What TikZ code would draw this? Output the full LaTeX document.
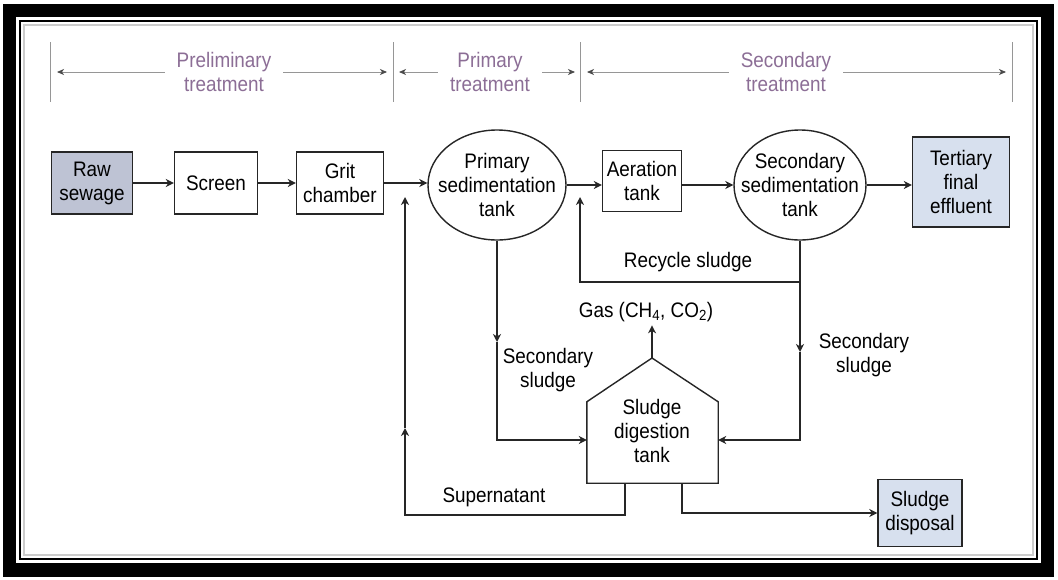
\documentclass[tikz,border=0pt]{standalone}
\usepackage{fontspec}
\newfontfamily\diagfont[FakeStretch=0.9]{Liberation Sans}
\usetikzlibrary{arrows.meta,shapes.geometric}
\definecolor{rawfill}{RGB}{190,195,212}
\definecolor{outfill}{RGB}{215,224,238}
\definecolor{hdrtext}{RGB}{140,110,150}
\definecolor{hdrline}{RGB}{150,150,150}
\tikzset{
  box/.style={draw=black!85,line width=1.4pt,align=center,inner sep=2pt},
  tank/.style={draw=black!85,line width=1.4pt,ellipse,minimum width=138pt,minimum height=110pt},
  flow/.style={draw=black!85,line width=1.4pt,-{Stealth[length=8pt,width=8pt,inset=2.5pt]}},
  pipe/.style={draw=black!85,line width=1.4pt},
  hdr/.style={text=hdrtext,align=center,inner xsep=12pt},
  harrow/.style={draw=hdrline,line width=0.9pt,-{Stealth[length=7pt,width=6pt,inset=2pt,color=black!70]}},
}
\begin{document}
\begin{tikzpicture}[x=1pt,y=-1pt,font=\diagfont\fontsize{21}{24}\selectfont]
  \useasboundingbox (0,0) rectangle (1058,579);
  % frame
  \fill[white] (0,0) rectangle (1058,579);
  \fill[black] (3,4) rectangle (1054,577);
  \fill[white] (16,17) rectangle (1041,563);
  \draw[black,line width=2.5pt] (20,21) rectangle (1037,559);
  \draw[black!20,line width=2pt] (24,25) rectangle (1033,555);
  % stages
  \foreach \x in {50,393,580,1012}
    \draw[hdrline,line width=0.8pt] (\x,42) -- (\x,102);
  \node[hdr] (hpre) at (224,72) {Preliminary\\treatment};
  \node[hdr] (hpri) at (490,72) {Primary\\treatment};
  \node[hdr] (hsec) at (786,72) {Secondary\\treatment};
  \coordinate (p0) at (57,72);
  \coordinate (p1) at (387,72);
  \coordinate (q0) at (399,72);
  \coordinate (q1) at (575,72);
  \coordinate (r0) at (587,72);
  \coordinate (r1) at (1006,72);
  \draw[harrow] (hpre.west) -- (p0);
  \draw[harrow] (hpre.east) -- (p1);
  \draw[harrow] (hpri.west) -- (q0);
  \draw[harrow] (hpri.east) -- (q1);
  \draw[harrow] (hsec.west) -- (r0);
  \draw[harrow] (hsec.east) -- (r1);
  % main line
  \node[box,fill=rawfill,minimum width=81pt,minimum height=62pt] (raw) at (92,183) {Raw\\sewage};
  \node[box,minimum width=83pt,minimum height=62pt] (scr) at (216,183) {Screen};
  \node[box,minimum width=87pt,minimum height=62pt] (grit) at (340,183) {Grit\\chamber};
  \node[tank] (prim) at (497,185) {};
  \node[align=center] at (prim) {Primary\\sedimentation\\tank};
  \node[box,minimum width=79pt,minimum height=61pt] (aer) at (642,181) {Aeration\\tank};
  \node[tank,minimum width=132pt] (sec) at (800,185) {};
  \node[align=center] at (sec) {Secondary\\sedimentation\\tank};
  \node[box,fill=outfill,minimum width=97pt,minimum height=90pt] (tert) at (961,182) {Tertiary\\final\\effluent};
  \node[box,fill=outfill,minimum width=84pt,minimum height=67pt] (disp) at (920,513) {Sludge\\disposal};
  % digester
  \node[minimum width=131pt,minimum height=81pt,inner sep=0pt] (dig) at (652.5,442.5) {};
  \coordinate (apex) at (652,358);
  \draw[pipe] (dig.north west) -- (apex) -- (dig.north east) -- (dig.south east) -- (dig.south west) -- cycle;
  \node[align=center] at (652,431) {Sludge\\digestion\\tank};
  \draw[flow] (raw) -- (scr);
  \draw[flow] (scr) -- (grit);
  \draw[flow] (grit.east) -- (grit.east -| prim.west);
  \draw[flow] (prim.east) -- (prim.east -| aer.west);
  \draw[flow] (aer.east |- sec.west) -- (sec.west);
  \draw[flow] (sec.east) -- (sec.east -| tert.west);
  % recycle sludge
  \coordinate (rj) at (800,282);
  \coordinate (rl) at (580,282);
  \coordinate (rt) at (580,197);
  \draw[flow] (sec.south) -- (rj) -- (rl) -- (rt);
  \node (lrec) at (688,262) {Recycle sludge};
  % secondary sludge
  \coordinate (rm) at (800,352);
  \coordinate (rb) at (800,440);
  \draw[flow] (rj) -- (rm);
  \draw[flow] (rm) -- (rb) -- (rb -| dig.east);
  \node[align=center] (lsr) at (864,355) {Secondary\\sludge};
  \coordinate (lm) at (497,342);
  \coordinate (lb) at (497,440);
  \draw[flow] (prim.south) -- (lm);
  \draw[flow] (lm) -- (lb) -- (lb -| dig.west);
  \node[align=center] (lsl) at (548,370) {Secondary\\sludge};
  % gas
  \node (gas) at (646,312) {Gas (CH\textsubscript{4}, CO\textsubscript{2})};
  \draw[flow] (apex) -- (apex |- gas.south);
  % supernatant
  \coordinate (s1) at (625,515);
  \coordinate (s2) at (405,515);
  \coordinate (sm) at (405,428);
  \coordinate (st) at (405,197);
  \draw[flow] (s1 |- dig.south) -- (s1) -- (s2) -- (sm);
  \draw[flow] (sm) -- (st);
  \node (lsup) at (494,497) {Supernatant};
  % disposal
  \coordinate (d1) at (682,513);
  \draw[flow] (d1 |- dig.south) -- (d1) -- (disp.west);
\end{tikzpicture}
\end{document}
